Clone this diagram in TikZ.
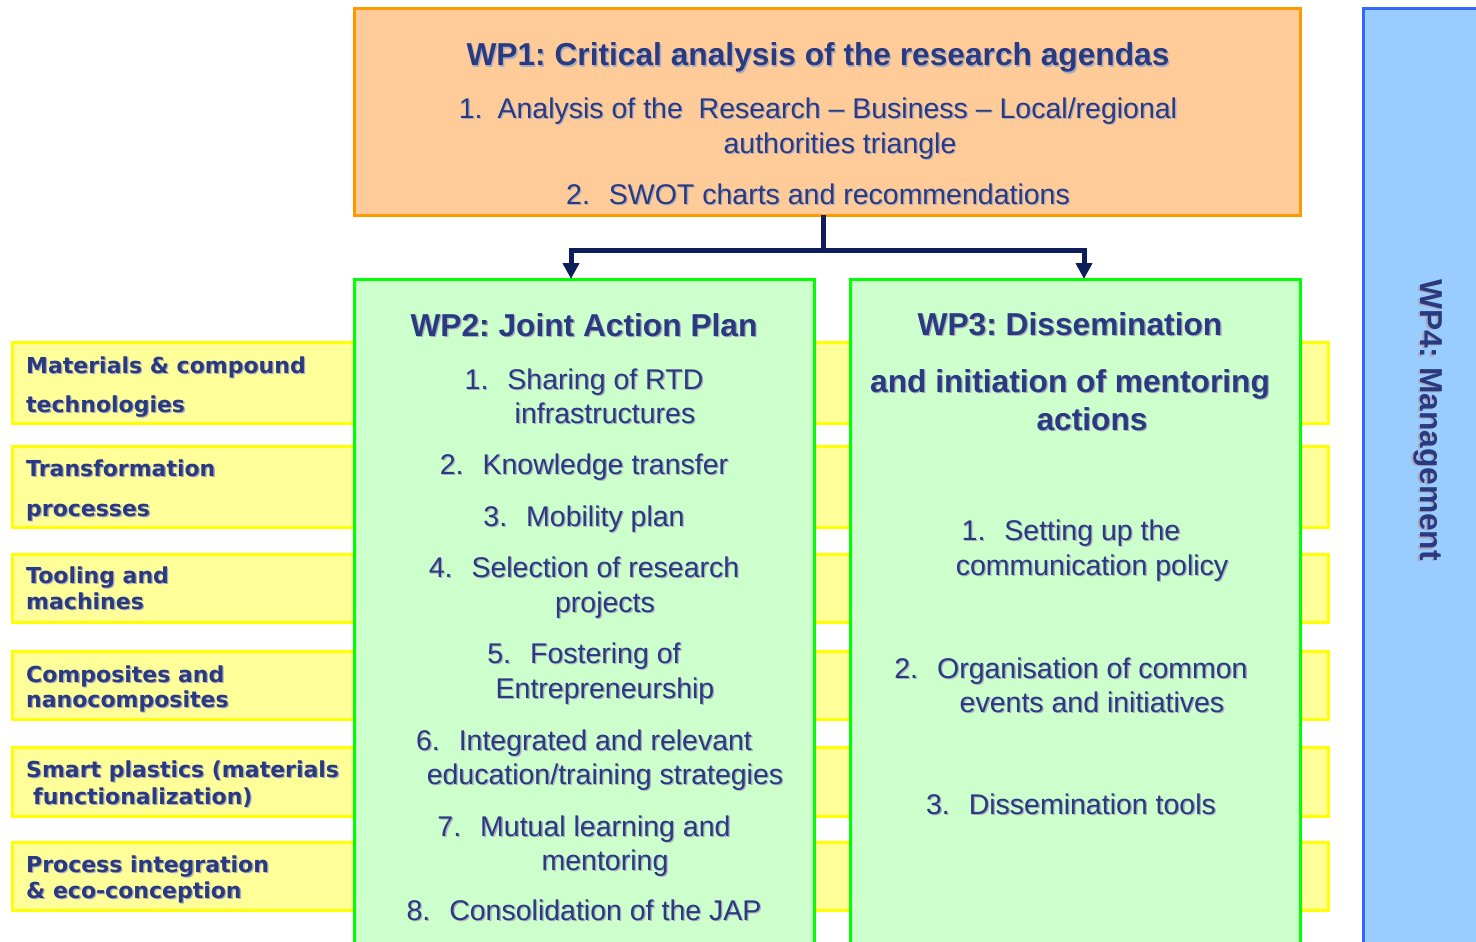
\documentclass[tikz,border=0pt]{standalone}
\usepackage{fontspec}
\setmainfont{Liberation Sans}
\newfontfamily\verd{DejaVu Sans}
\usetikzlibrary{arrows.meta}
\definecolor{txt}{HTML}{2A3A80}
\definecolor{shdc}{HTML}{ABABBE}
\definecolor{orfill}{HTML}{FFCC99}
\definecolor{orline}{HTML}{FF9900}
\definecolor{grfill}{HTML}{CCFFCC}
\definecolor{grline}{HTML}{00FF00}
\definecolor{yefill}{HTML}{FFFF99}
\definecolor{yeline}{HTML}{FFFF00}
\definecolor{blfill}{HTML}{99CCFF}
\definecolor{blline}{HTML}{3366FF}
\definecolor{arrc}{HTML}{0E1E5B}
\frenchspacing
\newcommand\shd[1]{\makebox[0pt][l]{\kern1.3pt\raisebox{-1.3pt}{\color{shdc}#1}}#1}
\newcommand\nm[1]{#1\hspace{19pt}}
\tikzset{
  box/.style={rectangle, inner sep=0pt, outer sep=0pt, line width=3pt, anchor=north west},
  band/.style={box, draw=yeline, fill=yefill, minimum width=1316pt},
  tl/.style={anchor=base, inner sep=0pt, text=txt, font=\fontsize{31.7}{36}\selectfont\bfseries},
  bl/.style={anchor=base, inner sep=0pt, text=txt, font=\fontsize{28.5}{34}\selectfont},
  ll/.style={anchor=base west, inner sep=0pt, text=txt, font=\verd\fontsize{22}{26}\selectfont\bfseries},
  arr/.style={draw=arrc, line width=5pt, -{Triangle[width=16pt,length=16pt]}}
}
\begin{document}
\begin{tikzpicture}[x=1pt,y=-1pt]
\useasboundingbox (0,0) rectangle (1476,942);
\clip (0,0) rectangle (1476,942);
\fill[white] (0,0) rectangle (1476,942);
% bands
\node[band, minimum height=81pt] (b1) at (12,342) {};
\node[band, minimum height=81pt] (b2) at (12,446) {};
\node[band, minimum height=68pt] (b3) at (12,554) {};
\node[band, minimum height=68pt] (b4) at (12,651) {};
\node[band, minimum height=69pt] (b5) at (12,747) {};
\node[band, minimum height=68pt] (b6) at (12,842) {};
% main boxes
\node[box, draw=orline, fill=orfill, minimum width=946pt, minimum height=206pt] (wp1) at (354,9) {};
\node[box, draw=grline, fill=grfill, minimum width=460pt, minimum height=700pt] (wp2) at (354,279) {};
\node[box, draw=grline, fill=grfill, minimum width=450pt, minimum height=700pt] (wp3) at (850,279) {};
\node[box, draw=blline, fill=blfill, minimum width=200pt, minimum height=1000pt] (wp4) at (1363,9) {};
% connectors
\coordinate (j) at (823,250);
\draw[draw=arrc, line width=5pt] (wp1.south -| j) -- (j);
\draw[arr] (j) -| ([xshift=-13pt]wp2.north);
\draw[arr] (j) -| ([xshift=9pt]wp3.north);
% left labels
\node[ll] (l1a) at (26,373) {\shd{Materials \& compound}};
\node[ll] (l1b) at (26,412) {\shd{technologies}};
\node[ll] (l2a) at (26,476) {\shd{Transformation}};
\node[ll] (l2b) at (26,516) {\shd{processes}};
\node[ll] (l3a) at (26,583) {\shd{Tooling and}};
\node[ll] (l3b) at (26,609) {\shd{machines}};
\node[ll] (l4a) at (26,682) {\shd{Composites and}};
\node[ll] (l4b) at (26,707) {\shd{nanocomposites}};
\node[ll] (l5a) at (26,777) {\shd{Smart plastics (materials}};
\node[ll] (l5b) at (33,804) {\shd{functionalization)}};
\node[ll] (l6a) at (26,872) {\shd{Process integration}};
\node[ll] (l6b) at (26,898) {\shd{\& eco-conception}};
% WP1 text
\node[tl] (t1) at (818,66) {\shd{WP1: Critical analysis of the research agendas}};
\node[bl] (t1a) at (818,118) {\shd{1.\hspace{15pt}Analysis of the\ \ Research – Business – Local/regional}};
\node[bl] (t1b) at (840,153) {\shd{authorities triangle}};
\node[bl] (t1c) at (818,204) {\shd{\nm{2.}SWOT charts and recommendations}};
% WP2 text
\node[tl] (t2) at (584,336) {\shd{WP2: Joint Action Plan}};
\node[bl] (t2a) at (584,389) {\shd{\nm{1.}Sharing of RTD}};
\node[bl] (t2b) at (605,423) {\shd{infrastructures}};
\node[bl] (t2c) at (584,474) {\shd{\nm{2.}Knowledge transfer}};
\node[bl] (t2d) at (584,526) {\shd{\nm{3.}Mobility plan}};
\node[bl] (t2e) at (584,577) {\shd{\nm{4.}Selection of research}};
\node[bl] (t2f) at (605,612) {\shd{projects}};
\node[bl] (t2g) at (584,663) {\shd{\nm{5.}Fostering of}};
\node[bl] (t2h) at (605,698) {\shd{Entrepreneurship}};
\node[bl] (t2i) at (584,750) {\shd{\nm{6.}Integrated and relevant}};
\node[bl] (t2j) at (605,784) {\shd{education/training strategies}};
\node[bl] (t2k) at (584,836) {\shd{\nm{7.}Mutual learning and}};
\node[bl] (t2l) at (605,870) {\shd{mentoring}};
\node[bl] (t2m) at (584,920) {\shd{\nm{8.}Consolidation of the JAP}};
% WP3 text
\node[tl] (t3) at (1070,335) {\shd{WP3: Dissemination}};
\node[tl] (t3a) at (1070,392) {\shd{and initiation of mentoring}};
\node[tl] (t3b) at (1092,430) {\shd{actions}};
\node[bl] (t3c) at (1071,540) {\shd{\nm{1.}Setting up the}};
\node[bl] (t3d) at (1092,575) {\shd{communication policy}};
\node[bl] (t3e) at (1071,678) {\shd{\nm{2.}Organisation of common}};
\node[bl] (t3f) at (1092,712) {\shd{events and initiatives}};
\node[bl] (t3g) at (1071,814) {\shd{\nm{3.}Dissemination tools}};
% WP4 text
\node[tl, anchor=center, rotate=-90] (t4) at (1427,420) {\shd{WP4: Management}};
\end{tikzpicture}
\end{document}
